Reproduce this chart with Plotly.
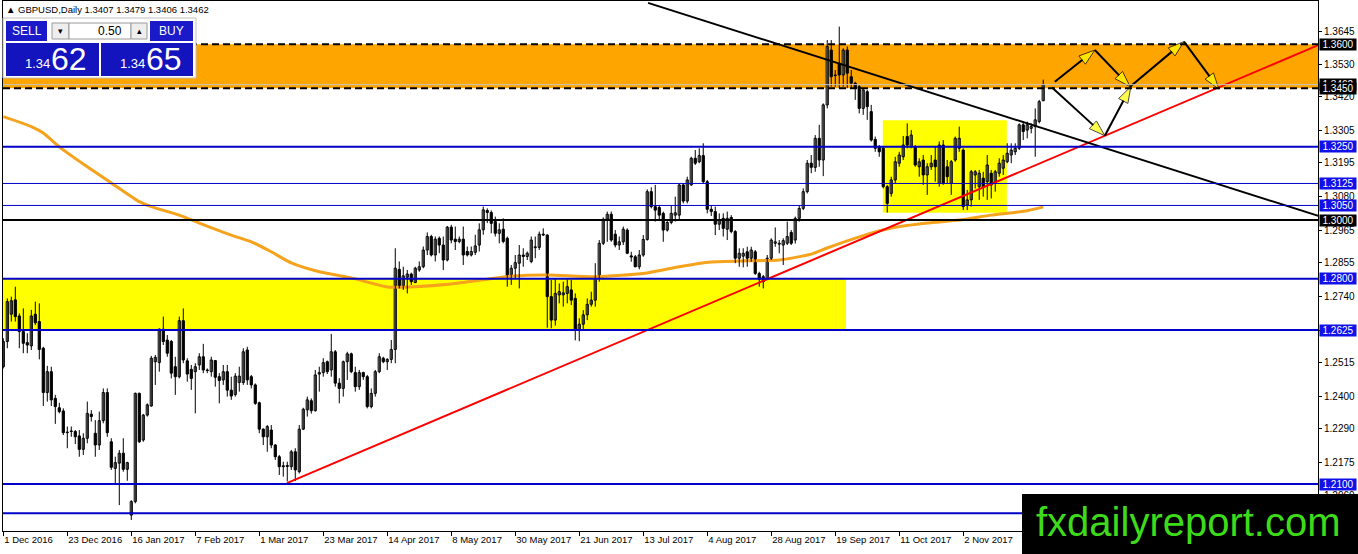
import plotly.graph_objects as go

# ---------------- data ----------------
bar_open = [
    1.2500, 1.2586, 1.2679, 1.2728, 1.2673, 1.2620, 1.2582, 1.2571, 1.2679, 1.2654,
    1.2563, 1.2412, 1.2483, 1.2392, 1.2360, 1.2349, 1.2275, 1.2281, 1.2279, 1.2264,
    1.2218, 1.2256, 1.2338, 1.2273, 1.2233, 1.2316, 1.2412, 1.2244, 1.2153, 1.2171,
    1.2205, 1.2150, 1.1994, 1.2040, 1.2409, 1.2250, 1.2335, 1.2366, 1.2517, 1.2514,
    1.2628, 1.2591, 1.2586, 1.2500, 1.2466, 1.2657, 1.2520, 1.2491, 1.2483, 1.2506,
    1.2534, 1.2489, 1.2483, 1.2521, 1.2466, 1.2455, 1.2483, 1.2420, 1.2405, 1.2446,
    1.2446, 1.2557, 1.2466, 1.2438, 1.2377, 1.2287, 1.2261, 1.2284, 1.2233, 1.2193,
    1.2162, 1.2163, 1.2159, 1.2210, 1.2142, 1.2287, 1.2353, 1.2384, 1.2350, 1.2475,
    1.2480, 1.2517, 1.2489, 1.2551, 1.2444, 1.2426, 1.2517, 1.2544, 1.2480, 1.2432,
    1.2480, 1.2466, 1.2364, 1.2409, 1.2483, 1.2529, 1.2517, 1.2525, 1.2559, 1.2832,
    1.2773, 1.2805, 1.2816, 1.2787, 1.2830, 1.2841, 1.2898, 1.2944, 1.2881, 1.2938,
    1.2915, 1.2864, 1.2976, 1.2935, 1.2927, 1.2935, 1.2893, 1.2881, 1.2890, 1.2915,
    1.2967, 1.3033, 1.3026, 1.2995, 1.2955, 1.2969, 1.2938, 1.2807, 1.2836, 1.2853,
    1.2881, 1.2876, 1.2859, 1.2906, 1.2907, 1.2952, 1.2949, 1.2739, 1.2659, 1.2745,
    1.2745, 1.2750, 1.2762, 1.2733, 1.2625, 1.2645, 1.2677, 1.2713, 1.2727, 1.2807,
    1.2921, 1.3003, 1.3020, 1.2952, 1.2915, 1.2926, 1.2966, 1.2878, 1.2875, 1.2841,
    1.2881, 1.2934, 1.3097, 1.3046, 1.3043, 1.3023, 1.2966, 1.2992, 1.3017, 1.3017,
    1.3120, 1.3065, 1.3120, 1.3211, 1.3199, 1.3220, 1.3131, 1.3037, 1.3029, 1.2986,
    1.3006, 1.2969, 1.3009, 1.2961, 1.2870, 1.2877, 1.2892, 1.2870, 1.2892, 1.2818,
    1.2807, 1.2801, 1.2870, 1.2921, 1.2918, 1.2915, 1.2921, 1.2958, 1.2932, 1.3006,
    1.3040, 1.3097, 1.3194, 1.3180, 1.3279, 1.3205, 1.3393, 1.3580, 1.3495, 1.3535,
    1.3495, 1.3580, 1.3489, 1.3467, 1.3455, 1.3381, 1.3438, 1.3370, 1.3275, 1.3250,
    1.3245, 1.3114, 1.3091, 1.3137, 1.3194, 1.3216, 1.3285, 1.3250, 1.3250, 1.3182,
    1.3205, 1.3154, 1.3182, 1.3205, 1.3125, 1.3256, 1.3182, 1.3125, 1.3205, 1.3245,
    1.3239, 1.3051, 1.3069, 1.3154, 1.3114, 1.3143, 1.3131, 1.3160, 1.3125, 1.3160,
    1.3177, 1.3199, 1.3222, 1.3233, 1.3245, 1.3325, 1.3307, 1.3313, 1.3319, 1.3336,
    1.3407,
]
bar_high = [
    1.2597, 1.2733, 1.2739, 1.2773, 1.2682, 1.2699, 1.2614, 1.2694, 1.2722, 1.2716,
    1.2568, 1.2503, 1.2500, 1.2404, 1.2377, 1.2358, 1.2296, 1.2296, 1.2284, 1.2284,
    1.2273, 1.2381, 1.2352, 1.2318, 1.2347, 1.2426, 1.2426, 1.2256, 1.2193, 1.2216,
    1.2256, 1.2176, 1.2045, 1.2412, 1.2412, 1.2339, 1.2375, 1.2537, 1.2540, 1.2631,
    1.2671, 1.2608, 1.2591, 1.2534, 1.2671, 1.2699, 1.2529, 1.2506, 1.2512, 1.2546,
    1.2578, 1.2494, 1.2534, 1.2523, 1.2478, 1.2506, 1.2506, 1.2466, 1.2478, 1.2500,
    1.2563, 1.2568, 1.2472, 1.2443, 1.2381, 1.2290, 1.2301, 1.2301, 1.2236, 1.2199,
    1.2176, 1.2176, 1.2216, 1.2222, 1.2301, 1.2360, 1.2398, 1.2392, 1.2489, 1.2500,
    1.2529, 1.2521, 1.2612, 1.2557, 1.2461, 1.2521, 1.2551, 1.2548, 1.2500, 1.2489,
    1.2483, 1.2472, 1.2426, 1.2489, 1.2546, 1.2534, 1.2529, 1.2591, 1.2904, 1.2859,
    1.2841, 1.2830, 1.2821, 1.2841, 1.2859, 1.2910, 1.2958, 1.2950, 1.2944, 1.2944,
    1.2944, 1.2980, 1.2984, 1.2978, 1.2944, 1.2978, 1.2910, 1.2910, 1.2950, 1.2989,
    1.3046, 1.3040, 1.3033, 1.3012, 1.2989, 1.3006, 1.2944, 1.2847, 1.2881, 1.2915,
    1.2904, 1.2893, 1.2944, 1.2944, 1.2961, 1.2972, 1.2952, 1.2796, 1.2801, 1.2784,
    1.2790, 1.2798, 1.2796, 1.2750, 1.2665, 1.2693, 1.2733, 1.2756, 1.2853, 1.2932,
    1.3009, 1.3029, 1.3029, 1.2966, 1.2944, 1.2978, 1.2972, 1.2892, 1.2881, 1.2898,
    1.2949, 1.3105, 1.3112, 1.3120, 1.3051, 1.3029, 1.3000, 1.3051, 1.3080, 1.3125,
    1.3125, 1.3148, 1.3216, 1.3239, 1.3245, 1.3262, 1.3137, 1.3051, 1.3046, 1.3023,
    1.3023, 1.3029, 1.3017, 1.2966, 1.2904, 1.2904, 1.2909, 1.2909, 1.2898, 1.2824,
    1.2813, 1.2881, 1.2938, 1.2975, 1.2932, 1.2938, 1.2995, 1.2966, 1.3012, 1.3051,
    1.3108, 1.3205, 1.3222, 1.3290, 1.3325, 1.3398, 1.3614, 1.3614, 1.3512, 1.3660,
    1.3586, 1.3592, 1.3512, 1.3472, 1.3461, 1.3450, 1.3444, 1.3393, 1.3285, 1.3256,
    1.3250, 1.3120, 1.3148, 1.3216, 1.3233, 1.3287, 1.3330, 1.3307, 1.3256, 1.3211,
    1.3222, 1.3194, 1.3222, 1.3250, 1.3268, 1.3273, 1.3205, 1.3205, 1.3285, 1.3319,
    1.3245, 1.3103, 1.3171, 1.3171, 1.3171, 1.3165, 1.3222, 1.3171, 1.3171, 1.3211,
    1.3222, 1.3262, 1.3262, 1.3262, 1.3330, 1.3336, 1.3336, 1.3330, 1.3381, 1.3410,
    1.3479,
]
bar_low = [
    1.2494, 1.2563, 1.2654, 1.2654, 1.2563, 1.2546, 1.2546, 1.2557, 1.2642, 1.2525,
    1.2366, 1.2381, 1.2366, 1.2305, 1.2341, 1.2267, 1.2222, 1.2261, 1.2236, 1.2193,
    1.2199, 1.2239, 1.2313, 1.2193, 1.2216, 1.2307, 1.2261, 1.2148, 1.2102, 1.2028,
    1.2142, 1.2111, 1.1977, 1.2034, 1.2240, 1.2244, 1.2330, 1.2364, 1.2438, 1.2483,
    1.2574, 1.2534, 1.2460, 1.2404, 1.2460, 1.2512, 1.2449, 1.2421, 1.2341, 1.2489,
    1.2478, 1.2478, 1.2466, 1.2432, 1.2375, 1.2438, 1.2398, 1.2387, 1.2398, 1.2415,
    1.2438, 1.2438, 1.2426, 1.2370, 1.2273, 1.2233, 1.2210, 1.2222, 1.2182, 1.2131,
    1.2125, 1.2109, 1.2148, 1.2110, 1.2136, 1.2284, 1.2330, 1.2340, 1.2347, 1.2415,
    1.2466, 1.2475, 1.2466, 1.2432, 1.2375, 1.2398, 1.2455, 1.2478, 1.2415, 1.2421,
    1.2455, 1.2358, 1.2358, 1.2398, 1.2478, 1.2512, 1.2489, 1.2512, 1.2512, 1.2767,
    1.2762, 1.2750, 1.2779, 1.2785, 1.2824, 1.2836, 1.2881, 1.2876, 1.2859, 1.2887,
    1.2830, 1.2859, 1.2921, 1.2898, 1.2921, 1.2847, 1.2876, 1.2876, 1.2881, 1.2893,
    1.2950, 1.2990, 1.2955, 1.2944, 1.2921, 1.2921, 1.2773, 1.2779, 1.2802, 1.2767,
    1.2841, 1.2864, 1.2853, 1.2870, 1.2898, 1.2946, 1.2633, 1.2631, 1.2640, 1.2716,
    1.2705, 1.2716, 1.2710, 1.2590, 1.2587, 1.2625, 1.2659, 1.2705, 1.2705, 1.2790,
    1.2915, 1.2926, 1.2926, 1.2907, 1.2898, 1.2915, 1.2884, 1.2858, 1.2839, 1.2832,
    1.2875, 1.2930, 1.3040, 1.2995, 1.3000, 1.2926, 1.2961, 1.2986, 1.2995, 1.3000,
    1.3057, 1.3057, 1.3117, 1.3188, 1.3194, 1.3125, 1.3023, 1.3014, 1.2949, 1.2966,
    1.2944, 1.2932, 1.2955, 1.2853, 1.2841, 1.2839, 1.2841, 1.2858, 1.2813, 1.2773,
    1.2767, 1.2796, 1.2864, 1.2909, 1.2887, 1.2847, 1.2915, 1.2915, 1.2920, 1.2995,
    1.3034, 1.3091, 1.3160, 1.3165, 1.3182, 1.3150, 1.3381, 1.3455, 1.3455, 1.3450,
    1.3455, 1.3450, 1.3450, 1.3410, 1.3364, 1.3359, 1.3342, 1.3268, 1.3233, 1.3216,
    1.3108, 1.3026, 1.3080, 1.3125, 1.3182, 1.3205, 1.3245, 1.3245, 1.3182, 1.3148,
    1.3120, 1.3086, 1.3171, 1.3131, 1.3114, 1.3120, 1.3125, 1.3086, 1.3199, 1.3233,
    1.3034, 1.3034, 1.3046, 1.3108, 1.3069, 1.3080, 1.3069, 1.3074, 1.3097, 1.3148,
    1.3154, 1.3194, 1.3194, 1.3222, 1.3239, 1.3273, 1.3279, 1.3296, 1.3216, 1.3330,
    1.3406,
]
bar_close = [
    1.2586, 1.2722, 1.2725, 1.2671, 1.2620, 1.2580, 1.2574, 1.2673, 1.2650, 1.2559,
    1.2412, 1.2483, 1.2387, 1.2364, 1.2347, 1.2275, 1.2277, 1.2279, 1.2261, 1.2218,
    1.2256, 1.2341, 1.2330, 1.2233, 1.2316, 1.2412, 1.2275, 1.2157, 1.2173, 1.2205,
    1.2150, 1.2173, 1.2040, 1.2409, 1.2244, 1.2335, 1.2370, 1.2529, 1.2532, 1.2628,
    1.2586, 1.2546, 1.2478, 1.2466, 1.2657, 1.2523, 1.2475, 1.2460, 1.2500, 1.2534,
    1.2489, 1.2487, 1.2523, 1.2464, 1.2453, 1.2483, 1.2420, 1.2400, 1.2468, 1.2468,
    1.2551, 1.2455, 1.2438, 1.2375, 1.2287, 1.2261, 1.2296, 1.2233, 1.2193, 1.2159,
    1.2159, 1.2160, 1.2210, 1.2148, 1.2287, 1.2355, 1.2387, 1.2350, 1.2472, 1.2480,
    1.2514, 1.2483, 1.2551, 1.2444, 1.2426, 1.2517, 1.2544, 1.2483, 1.2432, 1.2480,
    1.2466, 1.2364, 1.2409, 1.2483, 1.2534, 1.2517, 1.2525, 1.2559, 1.2836, 1.2773,
    1.2810, 1.2816, 1.2790, 1.2836, 1.2841, 1.2898, 1.2944, 1.2881, 1.2935, 1.2915,
    1.2864, 1.2976, 1.2932, 1.2927, 1.2935, 1.2881, 1.2881, 1.2893, 1.2912, 1.2967,
    1.3035, 1.3026, 1.2989, 1.2955, 1.2967, 1.2927, 1.2807, 1.2836, 1.2855, 1.2881,
    1.2876, 1.2887, 1.2932, 1.2909, 1.2952, 1.2949, 1.2739, 1.2659, 1.2750, 1.2756,
    1.2752, 1.2773, 1.2727, 1.2625, 1.2645, 1.2677, 1.2713, 1.2727, 1.2807, 1.2921,
    1.3003, 1.3020, 1.2932, 1.2915, 1.2926, 1.2969, 1.2887, 1.2874, 1.2841, 1.2881,
    1.2934, 1.3097, 1.3046, 1.3034, 1.3017, 1.2966, 1.2992, 1.3023, 1.3025, 1.3120,
    1.3065, 1.3137, 1.3211, 1.3194, 1.3220, 1.3131, 1.3037, 1.3029, 1.2986, 1.3000,
    1.2972, 1.3006, 1.2961, 1.2870, 1.2887, 1.2887, 1.2870, 1.2898, 1.2818, 1.2798,
    1.2790, 1.2870, 1.2932, 1.2926, 1.2921, 1.2930, 1.2944, 1.2921, 1.3006, 1.3040,
    1.3097, 1.3194, 1.3180, 1.3279, 1.3205, 1.3393, 1.3592, 1.3489, 1.3493, 1.3495,
    1.3580, 1.3501, 1.3467, 1.3450, 1.3381, 1.3444, 1.3387, 1.3273, 1.3245, 1.3233,
    1.3114, 1.3057, 1.3137, 1.3199, 1.3222, 1.3256, 1.3256, 1.3290, 1.3188, 1.3199,
    1.3154, 1.3182, 1.3194, 1.3182, 1.3256, 1.3125, 1.3148, 1.3199, 1.3279, 1.3279,
    1.3046, 1.3069, 1.3165, 1.3165, 1.3160, 1.3114, 1.3188, 1.3120, 1.3165, 1.3194,
    1.3205, 1.3228, 1.3239, 1.3245, 1.3325, 1.3302, 1.3325, 1.3319, 1.3342, 1.3404,
    1.3462,
]

date_labels = ["1 Dec 2016", "23 Dec 2016", "16 Jan 2017", "7 Feb 2017", "1 Mar 2017",
               "23 Mar 2017", "14 Apr 2017", "8 May 2017", "30 May 2017", "21 Jun 2017",
               "13 Jul 2017", "4 Aug 2017", "28 Aug 2017", "19 Sep 2017", "11 Oct 2017",
               "2 Nov 2017"]
date_label_bars = [0, 16, 32, 48, 64, 80, 96, 112, 128, 144, 160, 176, 192, 208, 224, 240]

price_ticks = [1.3645, 1.3530, 1.3420, 1.3305, 1.3195, 1.3080, 1.2965, 1.2855,
               1.2740, 1.2625, 1.2515, 1.2400, 1.2290, 1.2175, 1.2060]

ma_bars = [0, 7, 10, 14, 21, 27, 34, 37, 44, 49, 57, 62, 67, 72, 79, 87, 96, 103, 112,
           127, 136, 148, 161, 169, 177, 186, 194, 202, 206, 214, 222, 231, 239, 247, 256, 260]
ma_values = [1.3353, 1.3319, 1.3297, 1.3250, 1.3182, 1.3127, 1.3063, 1.3046, 1.3017,
             1.2990, 1.2949, 1.2926, 1.2892, 1.2854, 1.2824, 1.2803, 1.2772, 1.2773,
             1.2782, 1.2809, 1.2813, 1.2807, 1.2820, 1.2841, 1.2857, 1.2861, 1.2864,
             1.2884, 1.2905, 1.2943, 1.2973, 1.2990, 1.3000, 1.3017, 1.3032, 1.3045]

blue_thick_levels = [1.3250, 1.2800, 1.2625, 1.2100, 1.2000]
blue_thin_levels = [1.3125, 1.3050]
black_levels = [1.3000]
orange_zone = [1.3450, 1.3600]
bid_price = 1.3462
yellow_zone1_bars = [-1, 210.7]
yellow_zone1_prices = [1.2625, 1.2800]
yellow_zone2_bars = [219.9, 250.9]
yellow_zone2_prices = [1.3025, 1.3341]

red_trend_bars = [70.9, 330.0]
red_trend_prices = [1.2103, 1.3604]
black_trend_bars = [161.2, 330.0]
black_trend_prices = [1.3741, 1.3009]

arrow_up_bars = [262.9, 272.9, 281.7, 295.2, 303.9]
arrow_up_prices = [1.3472, 1.3580, 1.3455, 1.3609, 1.3447]
arrow_dn_bars = [262.2, 275.4, 281.9]
arrow_dn_prices = [1.3452, 1.3288, 1.3455]

label_levels = ["1.3600", "1.3462", "1.3450", "1.3250", "1.3125", "1.3050",
                "1.3000", "1.2800", "1.2625", "1.2100"]
label_colors = ["black", "black", "black", "#1010E8", "#1010E8", "#1010E8",
                "black", "#1010E8", "#1010E8", "#1010E8"]

# ---------------- layout geometry ----------------
W, H = 1358, 554
ML, MR, MT, MB = 3, 40, 1, 23
PW, PH = W - ML - MR, H - MT - MB
X_RANGE = [-0.075, 328.7]
Y_RANGE = [1.19397, 1.37473]
FONT = "Liberation Sans"
BLUE_LINE = "#0000C8"


def pxx(x):
    return (x - ML) / PW


def pxy(y):
    return (H - MB - y) / PH


fig = go.Figure()

# moving average
fig.add_trace(go.Scatter(x=ma_bars, y=ma_values, mode="lines",
                         line=dict(color="#F5A21C", width=3, shape="spline", smoothing=0.6),
                         hoverinfo="skip"))

# candles: wicks then bodies
bars = list(range(len(bar_close)))
wx, wy = [], []
for i in bars:
    wx += [i, i, None]
    wy += [bar_low[i], bar_high[i], None]
fig.add_trace(go.Scatter(x=wx, y=wy, mode="lines", line=dict(color="black", width=1),
                         hoverinfo="skip"))
up = [i for i in bars if bar_close[i] >= bar_open[i]]
dn = [i for i in bars if bar_close[i] < bar_open[i]]
fig.add_trace(go.Bar(x=up, base=[bar_open[i] for i in up],
                     y=[bar_close[i] - bar_open[i] for i in up], width=0.55,
                     marker=dict(color="white", line=dict(color="black", width=1))))
fig.add_trace(go.Bar(x=dn, base=[bar_close[i] for i in dn],
                     y=[bar_open[i] - bar_close[i] for i in dn], width=0.55,
                     marker=dict(color="black", line=dict(color="black", width=1))))

# trend lines
fig.add_trace(go.Scatter(x=red_trend_bars, y=red_trend_prices, mode="lines",
                         line=dict(color="#FF0000", width=2), hoverinfo="skip"))
fig.add_trace(go.Scatter(x=black_trend_bars, y=black_trend_prices, mode="lines",
                         line=dict(color="black", width=2), hoverinfo="skip"))

# projected path arrows
for xs, ys in [(arrow_up_bars, arrow_up_prices), (arrow_dn_bars, arrow_dn_prices)]:
    fig.add_trace(go.Scatter(
        x=xs, y=ys, mode="lines+markers", line=dict(color="black", width=2),
        marker=dict(symbol="arrow", size=[0] + [17] * (len(xs) - 1), angleref="previous",
                    color="#FFFF00", line=dict(color="black", width=1)),
        hoverinfo="skip"))

shapes = []
# zones
shapes.append(dict(type="rect", xref="paper", yref="y", x0=0, x1=1,
                   y0=orange_zone[0], y1=orange_zone[1], fillcolor="#FFA500",
                   line=dict(width=0), layer="below"))
shapes.append(dict(type="rect", xref="x", yref="y", x0=yellow_zone1_bars[0],
                   x1=yellow_zone1_bars[1], y0=yellow_zone1_prices[0],
                   y1=yellow_zone1_prices[1], fillcolor="#FFFF00", line=dict(width=0),
                   layer="below"))
shapes.append(dict(type="rect", xref="x", yref="y", x0=yellow_zone2_bars[0],
                   x1=yellow_zone2_bars[1], y0=yellow_zone2_prices[0],
                   y1=yellow_zone2_prices[1], fillcolor="#FFFF00", line=dict(width=0),
                   layer="below"))
# horizontal levels
shapes.append(dict(type="line", xref="paper", yref="y", x0=0, x1=1, y0=bid_price,
                   y1=bid_price, line=dict(color="#C8C8C8", width=1), layer="above"))
for lv in orange_zone:
    shapes.append(dict(type="line", xref="paper", yref="y", x0=0, x1=1, y0=lv, y1=lv,
                       line=dict(color="black", width=2, dash="7px,4px"), layer="above"))
for lv in blue_thick_levels:
    shapes.append(dict(type="line", xref="paper", yref="y", x0=0, x1=1, y0=lv, y1=lv,
                       line=dict(color=BLUE_LINE, width=2), layer="above"))
for lv in blue_thin_levels:
    shapes.append(dict(type="line", xref="paper", yref="y", x0=0, x1=1, y0=lv, y1=lv,
                       line=dict(color=BLUE_LINE, width=1), layer="above"))
for lv in black_levels:
    shapes.append(dict(type="line", xref="paper", yref="y", x0=0, x1=1, y0=lv, y1=lv,
                       line=dict(color="black", width=2), layer="above"))


def prect(x0, y0, x1, y1, fill, line_color=None):
    shapes.append(dict(type="rect", xref="paper", yref="paper",
                       x0=pxx(x0), x1=pxx(x1), y0=pxy(y1), y1=pxy(y0), fillcolor=fill,
                       line=dict(width=1 if line_color else 0,
                                 color=line_color or fill), layer="above"))


# one-click trading panel
prect(3, 18, 196, 78, "white", "#C0C0C0")
prect(6, 21, 47, 41, "#1A1AC8")
prect(52, 23, 69, 39, "#EEEEEE", "#9A9A9A")
prect(69, 23, 131, 39, "white", "#9A9A9A")
prect(131, 23, 147, 39, "#EEEEEE", "#9A9A9A")
prect(150, 21, 193, 41, "#1A1AC8")
prect(6, 43, 99, 76, "#1414BE")
prect(101, 43, 193, 76, "#1414BE")
# logo box
prect(1022, 494, 1360, 556, "black")

annotations = []


def ptext(x, y, text, size, color, anchor="center", family=FONT):
    annotations.append(dict(xref="paper", yref="paper", x=pxx(x), y=pxy(y), text=text,
                            showarrow=False, xanchor=anchor, yanchor="middle",
                            font=dict(family=family, size=size, color=color)))


ptext(4, 10, "\u25B2 GBPUSD,Daily 1.3407 1.3479 1.3406 1.3462", 9.5, "black", "left")
ptext(27, 31, "SELL", 12, "white")
ptext(60.5, 31, "\u25BE", 9, "black")
ptext(124, 31, "0.50", 12, "black", "right")
ptext(139, 31, "\u25B4", 9, "black")
ptext(171, 31, "BUY", 12, "white")
ptext(37, 64, "1.34", 13, "white")
ptext(69, 59, "62", 32, "white")
ptext(132, 64, "1.34", 13, "white")
ptext(164, 59, "65", 32, "white")
ptext(1188, 522, "fxdailyreport.com", 40, "#3EDB1A")

# price labels on the right axis
for txt, col in zip(label_levels, label_colors):
    annotations.append(dict(xref="paper", yref="y", x=1, y=float(txt), text=txt,
                            showarrow=False, xanchor="left", yanchor="middle", xshift=1,
                            width=36, height=11, bgcolor=col, borderpad=0,
                            font=dict(family=FONT, size=10, color="white")))

fig.update_layout(
    width=W, height=H,
    margin=dict(l=ML, r=MR, t=MT, b=MB, pad=0),
    paper_bgcolor="white", plot_bgcolor="white",
    showlegend=False, barmode="overlay",
    font=dict(family=FONT, size=10, color="black"),
    shapes=shapes, annotations=annotations,
    xaxis=dict(range=X_RANGE, tickvals=date_label_bars, ticktext=date_labels,
               ticks="outside", ticklen=4, tickcolor="black",
               ticklabelposition="outside right",
               tickfont=dict(family=FONT, size=9.5, color="black"),
               showgrid=False, zeroline=False, showline=True, linecolor="black",
               linewidth=1, mirror=True, fixedrange=True),
    yaxis=dict(range=Y_RANGE, side="right", tickvals=price_ticks,
               ticktext=["%.4f" % v for v in price_ticks],
               ticks="outside", ticklen=3, tickcolor="black",
               tickfont=dict(family=FONT, size=10, color="black"),
               showgrid=False, zeroline=False, showline=True, linecolor="black",
               linewidth=1, mirror=True, fixedrange=True),
)

fig.write_html("out.html", config={"displayModeBar": False},
               post_script="document.body.style.margin='0px';"
                           "document.body.style.overflow='hidden';")
